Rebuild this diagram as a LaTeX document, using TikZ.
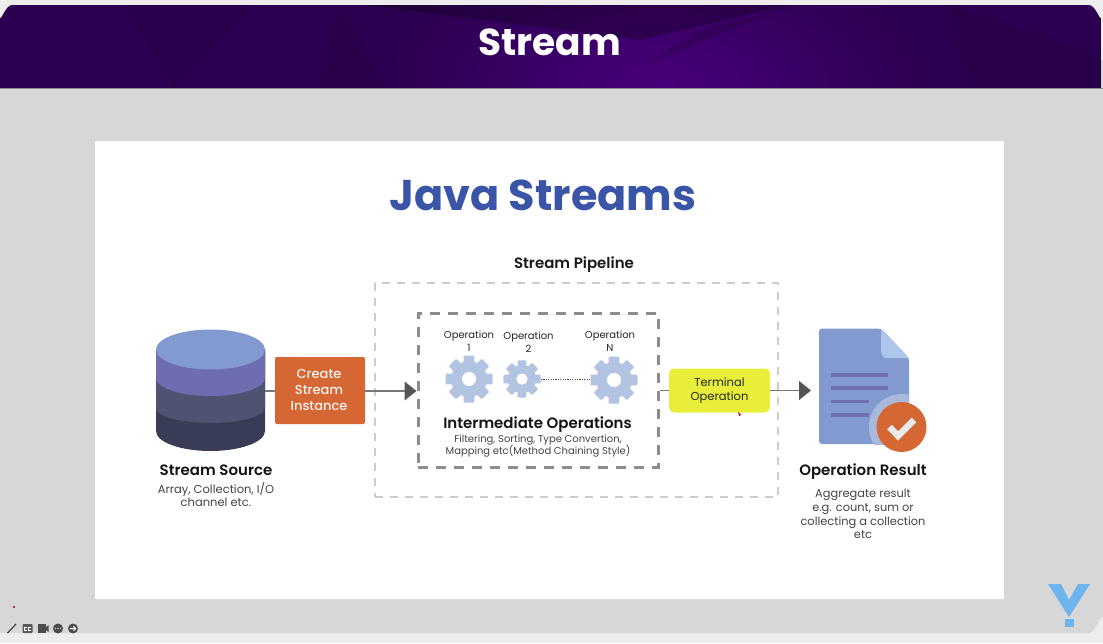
\documentclass[tikz,border=0pt]{standalone}
\usepackage{fontspec}
\setmainfont{Poppins}
\newfontfamily\semi{Poppins SemiBold}
\newfontfamily\medi{Poppins Medium}
\usetikzlibrary{arrows.meta,shadings}
\definecolor{pagegrey}{HTML}{D7D7D7}
\definecolor{stripgrey}{HTML}{EDEDED}
\definecolor{purpdark}{HTML}{2B0050}
\definecolor{purpglow}{HTML}{48007A}
\definecolor{javablue}{HTML}{3A55A7}
\definecolor{cyltop}{HTML}{829AD0}
\definecolor{cylone}{HTML}{6D6DB0}
\definecolor{cyltwo}{HTML}{4E5372}
\definecolor{cylthree}{HTML}{393C55}
\definecolor{orangebox}{HTML}{D46733}
\definecolor{yellowbox}{HTML}{E8EE3A}
\definecolor{gearblue}{HTML}{B3C4E2}
\definecolor{docblue}{HTML}{829AD0}
\definecolor{foldblue}{HTML}{AEC6EC}
\definecolor{halo}{HTML}{A9B9DE}
\definecolor{linkgrey}{HTML}{777777}
\definecolor{tipgrey}{HTML}{555555}
\definecolor{subtext}{HTML}{444444}
\definecolor{logoblue}{HTML}{6DB5EE}
\tikzset{
  head/.style={font=\semi\fontsize{15}{17}\selectfont,text=black!92,inner sep=0,align=center},
  sub/.style={font=\fontsize{11.5}{13.7}\selectfont,text=subtext,inner sep=0,align=center},
  oplabel/.style={font=\fontsize{10}{12.5}\selectfont,text=black!85,inner sep=0,align=center},
  link/.style={draw=linkgrey,line width=1.2},
  arrowlink/.style={link,-{Triangle[length=12,width=19,color=tipgrey]}},
  outerdash/.style={draw=black!20,line width=1.5,dash pattern=on 8 off 7},
  innerdash/.style={draw=black!45,line width=3,dash pattern=on 10 off 8},
  tool/.style={fill=black!70,draw=none}
}
\newcommand{\gearicon}[3]{%
  \fill[gearblue] (#1,#2) circle[radius=#3*0.76];
  \foreach \a in {0,45,...,315}{
    \fill[gearblue,rotate around={\a:(#1,#2)},rounded corners=1]
      (#1-#3*0.23,#2) rectangle (#1+#3*0.23,#2-#3);
  }
  \fill[white] (#1,#2) circle[radius=#3*0.3];
}
\begin{document}
\begin{tikzpicture}[x=1pt,y=-1pt]
\useasboundingbox (0,0) rectangle (1103,643);
% page
\fill[stripgrey] (0,0) rectangle (1103,643);
\fill[pagegrey] (0,60) -- (0,633) -- (1088,633) to[out=0,in=90] (1103,618) -- (1103,60) -- cycle;
% header
\begin{scope}
\clip (0,88) -- (0,17) to[out=-90,in=180] (12,5) -- (1089,5) to[out=0,in=-90] (1101,17) -- (1101,88) -- cycle;
\fill[purpdark] (0,5) rectangle (1101,88);
\shade[inner color=purpglow,outer color=purpdark] (380,-60) rectangle (940,230);
\fill[black,opacity=.06] (125,5) -- (175,88) -- (250,5) -- cycle;
\fill[black,opacity=.08] (340,5) -- (318,88) -- (385,88) -- cycle;
\fill[black,opacity=.24] (365,5) -- (790,5) -- (640,40) -- cycle;
\fill[black,opacity=.12] (640,68) -- (790,5) -- (800,5) -- (700,30) -- cycle;
\fill[black,opacity=.08] (945,5) -- (970,88) -- (1101,88) -- (1101,55) -- (950,5) -- cycle;
\end{scope}
\draw[black!45,line width=.8] (0,88.5) -- (1103,88.5);
\node[inner sep=0,text=white,font=\bfseries\fontsize{37.5}{44}\selectfont] (title) at (549.5,42) {Stream};
% slide
\fill[white] (95,141) rectangle (1004,599);
\node[inner sep=0,text=javablue,font=\fontsize{43}{50}\selectfont\bfseries] (java) at (543,195) {Java Streams};
\node[inner sep=0,font=\semi\fontsize{15}{17}\selectfont,text=black!90] (pipetitle) at (574,265) {Stream Pipeline};
% outer dashed and inner dashed
\node[outerdash,rectangle,minimum width=403,minimum height=214,inner sep=0] (outer) at (576.5,390) {};
\node[innerdash,rectangle,minimum width=240,minimum height=154,inner sep=0] (inner) at (538,390) {};
% cylinder
\fill[cylthree] (156,349) -- (156,431) arc[start angle=180,end angle=0,x radius=54.5,y radius=20] -- (265,349) -- cycle;
\fill[cyltwo] (156,349) -- (156,408) arc[start angle=180,end angle=0,x radius=54.5,y radius=15] -- (265,349) -- cycle;
\fill[cylone] (156,349) -- (156,378) arc[start angle=180,end angle=0,x radius=54.5,y radius=18] -- (265,349) -- cycle;
\fill[cyltop] (210.5,349.5) ellipse[x radius=54.5,y radius=20];
\coordinate (cylright) at (265,391);
\node[head] (srchead) at (216,470) {Stream Source};
\node[sub] (srcsub) at (216,494.5) {Array, Collection, I/O\\channel etc.};
% create box
\node[rectangle,fill=orangebox,rounded corners=2,minimum width=90,minimum height=67,inner sep=0] (create) at (320,390.5) {};
\node[text=white!92!orangebox,align=center,inner sep=0,font=\medi\fontsize{13}{16}\selectfont] (createtext) at (319,390) {Create\\Stream\\Instance};
% connectors
\draw[link] (cylright) -- (create.west |- cylright);
\draw[arrowlink] (create.east |- cylright) -- (inner.west |- cylright);
% gears
\gearicon{469}{379}{23.5}
\gearicon{522}{379}{18.7}
\gearicon{614}{380}{23.5}
\coordinate (gtwo) at (541,379);
\coordinate (gthree) at (590,379);
\draw[black!70,line width=1,dash pattern=on 1.2 off 1.2] (gtwo) -- (gthree);
\node[oplabel] (opa) at (469,341) {Operation\\1};
\node[oplabel] (opb) at (528.5,342) {Operation\\2};
\node[oplabel] (opc) at (610,341) {Operation\\N};
\node[inner sep=0,font=\semi\fontsize{15}{17}\selectfont,text=black!92] (inthead) at (537.5,424.5) {Intermediate Operations};
\node[sub,font=\fontsize{10}{12.8}\selectfont] (intsub) at (538,446) {Filtering, Sorting, Type Convertion,\\Mapping etc(Method Chaining Style)};
% terminal
\node[rectangle,fill=yellowbox,rounded corners=5,minimum width=101,minimum height=44,inner sep=0,
  align=center,text=black!85,font=\fontsize{11.5}{14}\selectfont] (term) at (719.5,390.5) {Terminal\\Operation};
\draw[link] (inner.east |- term.west) -- (term.west);
% document
\coordinate (doctip) at (811,390.5);
\draw[arrowlink] (term.east) -- (doctip);
\fill[docblue,rounded corners=3] (819,328.5) -- (881,328.5) -- (909,358) -- (909,444) -- (819,444) -- cycle;
\fill[foldblue,rounded corners=1] (881,328.5) -- (881,352) -- (884,358) -- (909,358) -- cycle;
\foreach \yy/\xx in {375/888,388/888,401.5/869,415/869}{
  \draw[cylone,line width=3.4] (831,\yy) -- (\xx,\yy);
}
\begin{scope}
\clip (819,328.5) rectangle (909,444);
\fill[halo] (902,427) circle[radius=33];
\end{scope}
\fill[orangebox] (901.5,427) circle[radius=25];
\draw[white!92!black,line width=6.5] (889.5,427) -- (898,436) -- (914,420);
\node[head] (reshead) at (863,471.5) {Operation Result};
\node[sub,font=\fontsize{11.4}{13.7}\selectfont] (ressub) at (863,514) {Aggregate result\\e.g. count, sum or\\collecting a collection\\etc};
% logo
\fill[logoblue] (1048,584) -- (1061,584) -- (1069,600) -- (1078,584) -- (1090,584) -- (1069,617) -- cycle;
\fill[logoblue] (1065,619) rectangle (1074,627);
% toolbar
\fill[red!75!black] (14,607) circle[radius=1.2];
\draw[black!75,line width=1.2] (7.5,633) -- (16,624);
\fill[black!65,rounded corners=.8] (22.5,624) rectangle (32.5,633);
\draw[white,line width=.8] (26.5,627) -- (24.5,627) -- (24.5,630) -- (26.5,630) (30.5,627) -- (28.5,627) -- (28.5,630) -- (30.5,630);
\fill[black!70] (37.5,624) rectangle (46,633);
\fill[black!70] (46,627) -- (48.5,625) -- (48.5,632) -- (46,630) -- cycle;
\fill[black!70] (58,628.5) circle[radius=5];
\fill[black!70] (73,628.5) circle[radius=5];
\foreach \xx in {55.5,58,60.5}{\fill[white] (\xx,628.5) circle[radius=.7];}
\draw[white,line width=1] (70,628.5) -- (75.5,628.5) (73.5,626.3) -- (75.7,628.5) -- (73.5,630.7);
\fill[red!75!black] (738,412) -- (741,415) -- (739,416) -- cycle;
\end{tikzpicture}
\end{document}
